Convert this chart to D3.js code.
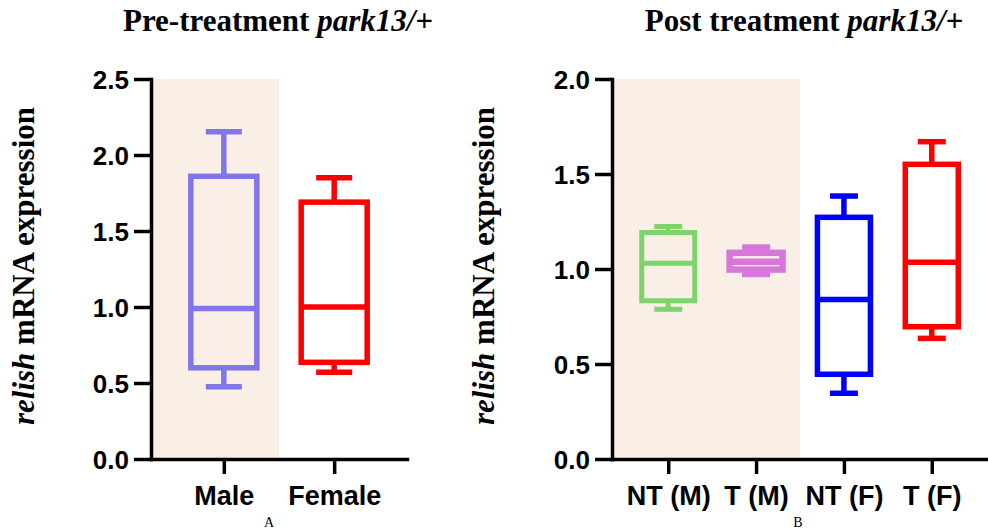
<!DOCTYPE html>
<html>
<head>
<meta charset="utf-8">
<style>
  body { margin: 0; background: #fff; }
  svg { display: block; }
  .tick text { font-family: "Liberation Sans", Arial, sans-serif; font-weight: bold; fill: #000; }
  .ttl { font-family: "Liberation Serif", "Times New Roman", serif; font-weight: bold; }
</style>
</head>
<body>
<svg></svg>
<script src="https://cdn.jsdelivr.net/npm/d3@7"></script>
<script>
// ---- data ----
// each box: [min, q1, median, q3, max]
const preGroups = ["Male", "Female"];
const preStats = [
  [0.476, 0.60, 0.99, 1.86, 2.153],
  [0.57, 0.636, 1.00, 1.69, 1.85]
];
const preColors = ["#8076e8", "#ff0000"];

const postGroups = ["NT (M)", "T (M)", "NT (F)", "T (F)"];
const postStats = [
  [0.788, 0.833, 1.03, 1.192, 1.224],
  [0.974, 0.997, 1.038, 1.085, 1.113],
  [0.346, 0.446, 0.84, 1.272, 1.384],
  [0.635, 0.696, 1.035, 1.551, 1.67]
];
const postColors = ["#7ed36a", "#d777dc", "#0000ff", "#ff0000"];

const preTicks = [0, 0.5, 1.0, 1.5, 2.0, 2.5];
const postTicks = [0, 0.5, 1.0, 1.5, 2.0];

let width = 988, height = 531;
let svg = d3.select("svg").attr("width", width).attr("height", height);

function panel(opt) {
  let g = svg.append("g");
  let x = d3.scalePoint().domain(opt.groups).range([opt.x0, opt.x1]).padding(opt.pad);
  let y = d3.scaleLinear().domain([0, opt.ymax]).range([459, 79]);

  // shaded male region
  let xs = x(opt.groups[opt.shadeN - 1]) + x.step() / 2;
  g.append("rect")
    .attr("x", opt.x0).attr("y", y(opt.ymax))
    .attr("width", xs - opt.x0).attr("height", y(0) - y(opt.ymax))
    .attr("fill", "#f9efe7");

  // boxes
  let bw = opt.boxW, cw = opt.capW;
  opt.stats.forEach((s, i) => {
    let cx = x(opt.groups[i]), col = opt.colors[i], sw = opt.sw[i];
    let bg = g.append("g").attr("stroke", col).attr("stroke-width", sw).attr("fill", "none");
    // whiskers
    bg.append("line").attr("x1", cx).attr("x2", cx).attr("y1", y(s[3])).attr("y2", y(s[4]));
    bg.append("line").attr("x1", cx).attr("x2", cx).attr("y1", y(s[1])).attr("y2", y(s[0]));
    bg.append("line").attr("x1", cx - cw / 2).attr("x2", cx + cw / 2).attr("y1", y(s[4])).attr("y2", y(s[4]));
    bg.append("line").attr("x1", cx - cw / 2).attr("x2", cx + cw / 2).attr("y1", y(s[0])).attr("y2", y(s[0]));
    // box
    bg.append("rect").attr("x", cx - bw / 2).attr("y", y(s[3]))
      .attr("width", bw).attr("height", y(s[1]) - y(s[3]));
    bg.append("line").attr("x1", cx - bw / 2).attr("x2", cx + bw / 2).attr("y1", y(s[2])).attr("y2", y(s[2]));
  });

  // axes
  let ya = g.append("g").attr("transform", "translate(" + opt.x0 + ",0)")
    .call(d3.axisLeft(y).tickValues(opt.ticks).tickFormat(d3.format(".1f")).tickSize(17).tickSizeOuter(0).tickPadding(5));
  ya.selectAll("text").style("font-size", "26px").attr("dy", "0.36em");
  let xa = g.append("g").attr("transform", "translate(0," + y(0) + ")")
    .call(d3.axisBottom(x).tickSize(15).tickSizeOuter(0));
  xa.selectAll("text").style("font-size", "27px").attr("y", 46).attr("dy", 0);
  g.selectAll(".domain, .tick line").attr("stroke", "#000").attr("stroke-width", 3.5);
  g.selectAll(".domain").attr("stroke-linecap", "square");

  // title
  let t = g.append("text").attr("class", "ttl").attr("x", opt.titleX).attr("y", 31)
    .attr("text-anchor", "middle").style("font-size", "31px");
  t.append("tspan").text(opt.title + " ");
  t.append("tspan").attr("font-style", "italic").text("park13/+");

  // y label
  let yl = g.append("text").attr("class", "ttl")
    .attr("transform", "translate(" + opt.labelX + ",266) rotate(-90)")
    .attr("text-anchor", "middle").style("font-size", "31px");
  yl.append("tspan").attr("font-style", "italic").text("relish");
  yl.append("tspan").text(" mRNA expression");

  // panel letter
  g.append("text").attr("x", opt.letterX).attr("y", 527).attr("text-anchor", "middle")
    .style("font-family", "Liberation Serif, serif").style("font-size", "14px").text(opt.letter);
}

panel({
  groups: preGroups, stats: preStats, colors: preColors, sw: [5.5, 5.5],
  x0: 151, x1: 407, pad: 0.66, ymax: 2.5, ticks: preTicks,
  boxW: 66, capW: 36, shadeN: 1,
  title: "Pre-treatment", titleX: 278, labelX: 34, letterX: 269, letter: "A"
});

panel({
  groups: postGroups, stats: postStats, colors: postColors, sw: [5, 6.5, 5.5, 5.5],
  x0: 612, x1: 988, pad: 0.64, ymax: 2.0, ticks: postTicks,
  boxW: 53, capW: 28, shadeN: 2,
  title: "Post treatment", titleX: 804, labelX: 494, letterX: 798, letter: "B"
});
</script>
</body>
</html>
